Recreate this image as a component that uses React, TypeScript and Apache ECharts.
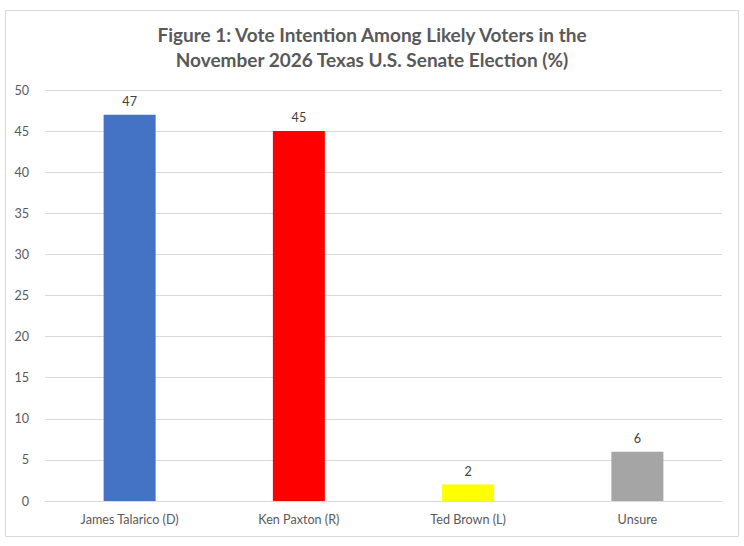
import React, { useEffect, useRef } from "react";
import * as echarts from "echarts";

const categories = ["James Talarico (D)", "Ken Paxton (R)", "Ted Brown (L)", "Unsure"];
const values = [47, 45, 2, 6];
const colors = ["#4472C4", "#FF0000", "#FFFF00", "#A5A5A5"];
const titleLines = [
  "Figure 1: Vote Intention Among Likely Voters in the",
  "November 2026 Texas U.S. Senate Election (%)",
];

export default function App() {
  const ref = useRef<HTMLDivElement>(null);
  useEffect(() => {
    document.body.style.margin = "0";
    const chart = echarts.init(ref.current!, null, { renderer: "svg" });
    const font = "Lato, 'Open Sans', sans-serif";
    chart.setOption({
      animation: false,
      backgroundColor: "#ffffff",
      textStyle: { fontFamily: font },
      title: {
        text: titleLines.join("\n"),
        left: "center",
        top: 17,
        textStyle: {
          fontFamily: font,
          fontSize: 19,
          fontWeight: "bold",
          color: "#595959",
          lineHeight: 25,
        },
      },
      graphic: [
        {
          type: "rect",
          shape: { x: 5.5, y: 10.5, width: 733, height: 526 },
          style: { fill: "none", stroke: "#d9d9d9", lineWidth: 1 },
          silent: true,
          z: -1,
        },
      ],
      grid: { left: 45, right: 22, top: 90, bottom: 45, containLabel: false },
      xAxis: {
        type: "category",
        data: categories,
        axisTick: { show: false },
        axisLine: { lineStyle: { color: "#d9d9d9" } },
        axisLabel: { color: "#595959", fontSize: 12.6, margin: 12, fontFamily: font },
      },
      yAxis: {
        type: "value",
        min: 0,
        max: 50,
        interval: 5,
        axisLine: { show: false },
        axisTick: { show: false },
        splitLine: { lineStyle: { color: "#d9d9d9" } },
        axisLabel: { color: "#595959", fontSize: 12.6, margin: 16, fontFamily: font },
      },
      series: [
        {
          type: "bar",
          barWidth: 52,
          data: values.map((v, i) => ({ value: v, itemStyle: { color: colors[i] } })),
          label: {
            show: true,
            position: "top",
            distance: 7,
            color: "#404040",
            fontSize: 12.6,
            fontFamily: font,
          },
        },
      ],
    });
    return () => chart.dispose();
  }, []);
  return <div ref={ref} style={{ width: 744, height: 546 }} />;
}
